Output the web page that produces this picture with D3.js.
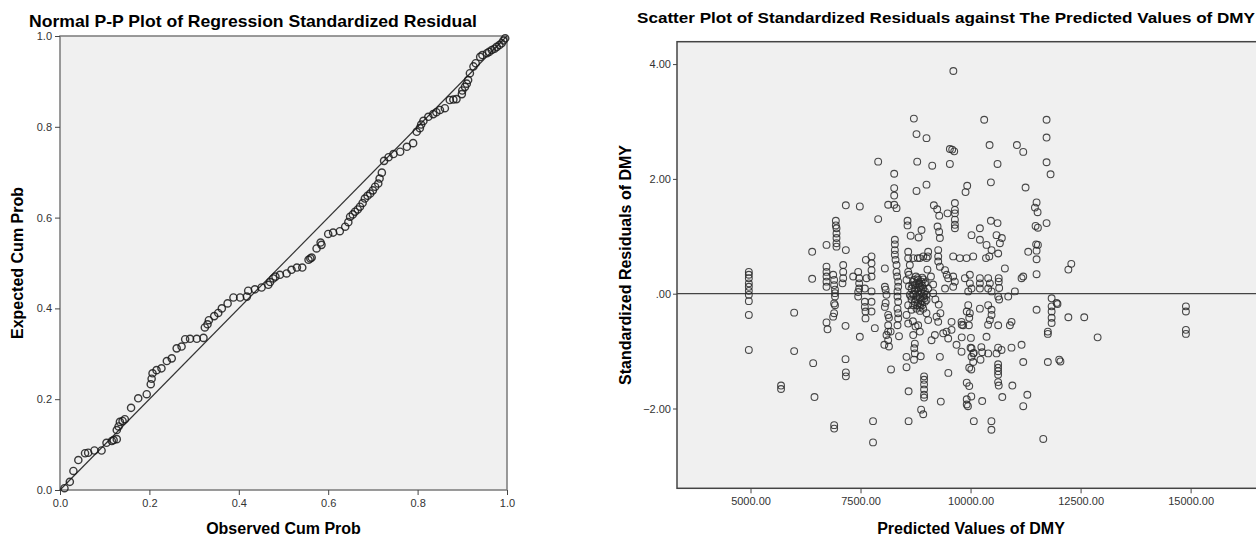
<!DOCTYPE html>
<html>
<head>
<meta charset="utf-8">
<script src="https://cdn.jsdelivr.net/npm/d3@7"></script>
<style>
  body { margin: 0; background: #fff; }
  svg text { font-family: "Liberation Sans", Arial, sans-serif; }
</style>
</head>
<body>
<svg id="chart" width="1256" height="537"></svg>
<script>
// P-P plot: [observed cum prob, expected cum prob]
var ppPoints = [
  [.010,.004],[.022,.018],[.030,.042],[.041,.066],[.056,.081],[.063,.082],[.077,.087],[.093,.087],
  [.104,.104],[.116,.108],[.120,.110],[.127,.112],[.127,.132],[.131,.140],[.134,.150],[.140,.152],
  [.145,.156],[.159,.181],[.175,.202],[.194,.211],[.203,.233],[.205,.245],[.207,.257],[.216,.264],
  [.227,.268],[.239,.284],[.250,.290],[.261,.312],[.272,.316],[.280,.332],[.291,.333],[.306,.333],
  [.321,.335],[.324,.358],[.330,.365],[.333,.374],[.345,.383],[.354,.390],[.362,.400],[.375,.411],
  [.388,.424],[.403,.424],[.418,.426],[.421,.439],[.436,.442],[.451,.446],[.466,.452],[.470,.458],
  [.477,.466],[.482,.470],[.492,.474],[.507,.477],[.518,.485],[.530,.490],[.542,.490],[.556,.507],
  [.560,.510],[.563,.512],[.574,.532],[.583,.545],[.585,.540],[.600,.564],[.611,.567],[.626,.570],
  [.638,.580],[.645,.590],[.649,.602],[.655,.607],[.660,.613],[.666,.618],[.671,.624],[.677,.632],
  [.682,.642],[.688,.648],[.694,.653],[.700,.660],[.705,.668],[.712,.675],[.715,.686],[.720,.699],
  [.725,.725],[.735,.733],[.746,.740],[.761,.745],[.776,.756],[.790,.764],[.798,.789],[.805,.797],
  [.808,.805],[.813,.813],[.824,.822],[.835,.828],[.842,.832],[.850,.837],[.861,.841],[.872,.859],
  [.880,.860],[.887,.861],[.899,.872],[.900,.880],[.906,.888],[.910,.895],[.913,.903],[.917,.918],
  [.925,.933],[.930,.940],[.940,.954],[.945,.958],[.955,.962],[.960,.965],[.966,.969],[.972,.972],
  [.977,.976],[.983,.980],[.988,.984],[.992,.990],[.996,.995]
];
var ppTicks = [0, 0.2, 0.4, 0.6, 0.8, 1.0];

// scatter: [predicted value of DMY, standardized residual]
var residPoints = [
  // upper part
  [9609,3.88],
  [7901,2.30],[8265,2.09],[8265,1.84],[8265,1.71],[8128,1.55],[8265,1.55],[8318,1.49],[7166,1.54],
  [7484,1.52],[7901,1.30],[6939,1.27],[6939,1.19],
  [8712,3.05],[10310,3.03],[11727,3.03],[8772,2.78],[8999,2.71],[11727,2.72],[9530,2.52],[9583,2.51],
  [9629,2.48],[10432,2.59],[11053,2.59],[11197,2.47],[8788,2.30],[9129,2.23],[9530,2.26],[10613,2.26],
  [11727,2.29],[11818,2.08],[8999,1.90],[8772,1.79],[9924,1.88],[9886,1.77],[10462,1.94],[11250,1.85],
  [9166,1.54],[9242,1.47],[9288,1.36],[9477,1.40],[9644,1.58],[9644,1.46],[9644,1.40],[9644,1.29],
  [11500,1.59],[11462,1.50],[11523,1.42],[8568,1.27],[8568,1.19],[8886,1.11],[9250,1.17],[9644,1.20],
  [9644,1.14],[10212,1.14],[10462,1.27],[10613,1.23],[11477,1.18],[11727,1.23],[11530,1.15],
  // left columns
  [4962,0.38],[4962,0.33],[4962,0.27],[4962,0.18],[4962,0.12],[4962,0.05],[4962,-0.02],[4962,-0.13],
  [4962,-0.37],[4962,-0.98],[5992,-0.33],[5992,-1.00],[6401,0.73],[6401,0.26],[6424,-1.21],
  [6727,0.85],[6954,1.14],[6954,1.05],[6954,0.97],[6954,0.88],[6954,0.82],[7166,0.76],
  [6727,0.47],[6727,0.38],[6727,0.30],[6727,0.21],[6727,0.12],
  [6878,0.33],[6900,0.24],[6900,0.15],[6920,0.07],[6920,0.01],[6920,-0.05],[6900,-0.17],[6920,-0.20],
  [6900,-0.34],[6878,-0.40],[6727,-0.50],[6750,-0.62],
  [7106,0.50],[7106,0.38],[7106,0.27],[7090,0.18],[7159,-0.56],[7159,-1.14],[7333,0.30],
  [7447,0.38],[7469,0.27],[7469,0.18],[7469,0.09],[7447,0.03],[7447,-0.05],
  [7621,0.59],[7636,0.27],[7598,0.09],[7598,-0.14],[7598,-0.23],[7613,-0.31],[7613,-0.43],[7484,-0.75],
  // middle band
  [7750,0.65],[7750,0.53],[7750,0.41],[7750,0.30],[7750,0.04],[7750,-0.14],[7750,-0.31],
  [8053,0.44],[8053,0.12],[8090,-0.02],[8053,-0.23],[8128,-0.37],[8128,-0.55],[8090,-0.72],[8128,-0.81],
  [7825,-0.60],[8070,0.07],[8070,-0.16],[8146,-0.42],[8041,-0.89],[8184,-0.66],[8146,-0.92],
  [8280,0.94],[8280,0.86],[8280,0.76],[8280,0.68],[8295,0.59],[8318,0.50],[8318,0.38],[8333,0.30],
  [8355,0.21],[8355,0.12],[8340,0.04],[8340,-0.05],[8355,-0.14],[8340,-0.26],[8355,-0.34],[8355,-0.43],
  [8340,-0.55],[8374,-0.74],
  [8583,0.73],[8583,0.62],[8620,0.50],[8583,0.38],[8545,0.24],[8620,-0.02],[8583,-0.20],[8545,-0.37],
  [8583,-0.52],[8639,1.01],[8820,0.98],[8700,0.62],[8800,0.62],[8925,0.65],[9029,0.65],
  [8848,0.62],[8999,0.62],[9037,0.73],
  [9265,0.76],[9265,0.65],[9265,0.56],[9303,0.47],[9286,1.08],[9303,0.97],
  [9420,0.41],[9458,0.33],[9492,0.27],[9420,0.09],[9605,0.30],[9643,0.21],[9605,0.12],
  [9605,0.65],[9757,0.62],[9909,0.62],[10060,0.65],[10350,0.62],[10426,0.65],
  [9871,0.27],[9984,0.18],[10022,0.09],[9984,0.33],[9947,0.04],[9947,-0.20],[9984,-0.34],[9962,-0.55],
  [9913,-0.31],[9970,-0.42],[9799,-0.54],[9799,-0.76],[10008,-0.77],
  [10212,0.27],[10212,0.18],[10212,0.09],[10400,0.27],[10439,0.18],[10400,0.09],[10477,0.04],
  [10400,-0.20],[10477,-0.28],[10477,-0.37],[10439,-0.46],[10212,-0.26],[10628,-0.05],[10856,-0.05],
  [11007,0.04],[10780,0.44],[11159,0.27],
  [9795,-0.49],[9833,-0.55],[9568,-0.49],[9454,-0.66],[9492,-0.78],
  [8999,-0.34],[9037,-0.46],[9227,-0.40],[9265,-0.49],[9189,-0.72],[9378,-0.69],[8810,-0.55],[8848,-0.66],
  [8697,-0.72],[8734,-0.87],[8720,-0.95],[8734,-1.04],[8545,-1.10],[8128,-0.66],[9113,-0.81],[9303,-1.10],
  [9681,-0.89],[9795,-1.01],[10022,-0.95],[10060,-1.04],[10022,-1.10],[10060,-1.19],
  [10363,-0.75],[10401,-1.04],[10590,-1.04],[10704,-0.98],[10894,-0.55],[10931,-0.49],[10628,-0.55],
  [11159,-0.89],[11197,-1.19],[9568,-0.63],
  [10022,1.02],[10212,0.94],[10363,0.85],[10477,0.76],[10590,1.02],[10666,0.88],[10628,0.70],[10711,0.97],
  [11310,0.73],[11197,0.30],
  [10398,-0.54],[10640,0.27],[10640,0.21],[10650,0.10],[10650,-0.10],[10626,-0.94],[10626,-1.23],
  [10626,-1.29],[10626,-1.35],[10930,-0.94],[10000,-0.94],[10074,-1.03],[10017,-1.32],[9970,-1.29],
  [10245,-0.93],[10264,-1.02],[10226,-1.15],
  [9020,0.42],[9100,0.30],[9150,0.16],[9150,0.01],[9200,-0.10],[9277,-0.19],[9315,-0.34],
  [8600,0.33],[8600,0.13],[8660,-0.10],[8660,-0.28],[8690,-0.48],[8750,-0.57],[8715,-1.15],[8868,-1.09],
  // dense centre
  [8697,0.21],[8734,0.15],[8772,0.18],[8810,0.24],[8848,0.12],[8886,0.21],[8924,0.09],[8962,0.18],
  [8734,0.06],[8810,0.04],[8886,0.01],[8962,0.04],[8697,-0.02],[8772,-0.05],[8848,-0.08],[8924,-0.05],
  [8999,-0.02],[8734,-0.14],[8810,-0.17],[8886,-0.13],[8962,-0.14],[8848,-0.23],[8772,-0.26],[8924,-0.26],
  [8659,0.09],[9037,0.09],[8999,-0.11],[8697,-0.20],[8795,0.27],[8901,0.28],
  [8680,0.15],[8760,0.10],[8840,0.18],[8900,0.14],[8950,-0.08],[8700,0.00],[8760,-0.10],[8830,-0.02],
  [8870,0.06],[8940,0.00],[8790,-0.20],[8860,-0.18],[8720,0.24],[8980,0.20],[8650,-0.05],[8820,0.10],
  [8900,-0.20],[8760,0.30],[8850,-0.30],[8930,0.25],
  // right side
  [11490,0.86],[11530,0.85],[11500,0.75],[11500,0.60],[11500,0.34],[11500,-0.28],
  [12222,0.42],[12289,0.52],[11756,-0.66],[11756,-0.70],[11756,-1.19],
  [11842,-0.08],[11842,-0.22],[11842,-0.31],[11842,-0.42],[11842,-0.51],[11956,-0.16],[11975,-0.18],
  [12014,-1.15],[12042,-1.18],[12222,-0.41],[12583,-0.41],[12887,-0.76],
  [14893,-0.22],[14893,-0.31],[14893,-0.63],[14893,-0.70],
  // lower part
  [5694,-1.60],[5694,-1.66],[6454,-1.80],[6901,-2.29],[6901,-2.35],[7167,-1.37],[7167,-1.44],
  [7784,-2.22],[7784,-2.59],[8592,-1.70],[8592,-2.22],
  [8944,-1.44],[8944,-1.50],[8944,-1.58],[8944,-1.67],[8944,-1.76],[8944,-1.81],[8877,-2.02],[8925,-2.10],
  [9324,-1.88],[9495,-1.38],[9913,-1.55],[9970,-1.61],[10017,-1.79],[9913,-1.84],[9913,-1.93],[9941,-1.96],
  [10074,-2.22],[10264,-1.87],[10626,-1.41],[10626,-1.54],[10640,-1.60],[10721,-1.80],[10474,-2.22],
  [10474,-2.37],[10950,-1.60],[11197,-1.96],[11290,-1.76],[11652,-2.53],[8193,-1.32],[8545,-1.28]
];
var predTicks = [5000, 7500, 10000, 12500, 15000];
var residTicks = [-2, 0, 2, 4];

var svg = d3.select('#chart');

// ---------- left: Normal P-P plot ----------
var pp = {left: 60, right: 507, top: 36, bottom: 490};
var ppX = d3.scaleLinear().domain([0, 1]).range([pp.left, pp.right]);
var ppY = d3.scaleLinear().domain([0, 1]).range([pp.bottom, pp.top]);

svg.append('rect')
  .attr('x', pp.left).attr('y', pp.top)
  .attr('width', pp.right - pp.left).attr('height', pp.bottom - pp.top)
  .attr('fill', '#f0f0f0').attr('stroke', '#7a7a7a').attr('stroke-width', 1.5);

var ppXAxis = svg.append('g')
  .attr('transform', 'translate(0,' + pp.bottom + ')')
  .call(d3.axisBottom(ppX).tickValues(ppTicks).tickFormat(d3.format('.1f')).tickSize(5).tickPadding(4));
var ppYAxis = svg.append('g')
  .attr('transform', 'translate(' + pp.left + ',0)')
  .call(d3.axisLeft(ppY).tickValues(ppTicks).tickFormat(d3.format('.1f')).tickSize(5).tickPadding(3));

svg.append('line')
  .attr('x1', ppX(0)).attr('y1', ppY(0))
  .attr('x2', ppX(1)).attr('y2', ppY(1))
  .attr('stroke', '#333').attr('stroke-width', 1.2);

svg.append('g').selectAll('circle')
  .data(ppPoints).enter().append('circle')
  .attr('cx', function(d){ return ppX(d[0]); })
  .attr('cy', function(d){ return ppY(d[1]); })
  .attr('r', 3.6)
  .attr('fill', 'none')
  .attr('stroke', '#1a1a1a')
  .attr('stroke-width', 1.4)
  .attr('stroke-opacity', 0.85);

svg.append('text')
  .attr('x', 29).attr('y', 27)
  .attr('textLength', 448).attr('lengthAdjust', 'spacingAndGlyphs')
  .style('font-size', '17px').style('font-weight', 'bold')
  .text('Normal P-P Plot of Regression Standardized Residual');
svg.append('text')
  .attr('x', (pp.left + pp.right) / 2).attr('y', 534)
  .attr('text-anchor', 'middle')
  .style('font-size', '16px').style('font-weight', 'bold')
  .text('Observed Cum Prob');
svg.append('text')
  .attr('transform', 'translate(23,' + (pp.top + pp.bottom) / 2 + ') rotate(-90)')
  .attr('text-anchor', 'middle')
  .style('font-size', '16px').style('font-weight', 'bold')
  .text('Expected Cum Prob');

// ---------- right: residuals vs predicted ----------
var sc = {left: 677, right: 1265, top: 41.7, bottom: 488.3};
var scX = d3.scaleLinear().domain([3330, 16690]).range([sc.left, sc.right]);
var scY = d3.scaleLinear().domain([-3.39, 4.39]).range([sc.bottom, sc.top]);

svg.append('rect')
  .attr('x', sc.left).attr('y', sc.top)
  .attr('width', sc.right - sc.left).attr('height', sc.bottom - sc.top)
  .attr('fill', '#f0f0f0').attr('stroke', '#444').attr('stroke-width', 1.5);

var fmtResid = function(v){
  var s = d3.format('.2f')(v);
  return v === 0 ? '.00' : s;
};
var scXAxis = svg.append('g')
  .attr('transform', 'translate(0,' + sc.bottom + ')')
  .call(d3.axisBottom(scX).tickValues(predTicks).tickFormat(d3.format('.2f')).tickSize(5).tickPadding(4));
var scYAxis = svg.append('g')
  .attr('transform', 'translate(' + sc.left + ',0)')
  .call(d3.axisLeft(scY).tickValues(residTicks).tickFormat(fmtResid).tickSize(4).tickPadding(2));

svg.append('line')
  .attr('x1', sc.left).attr('x2', sc.right)
  .attr('y1', scY(0)).attr('y2', scY(0))
  .attr('stroke', '#444').attr('stroke-width', 1.3);

svg.append('g').selectAll('circle')
  .data(residPoints).enter().append('circle')
  .attr('cx', function(d){ return scX(d[0]); })
  .attr('cy', function(d){ return scY(d[1]); })
  .attr('r', 3.4)
  .attr('fill', 'none')
  .attr('stroke', '#2a2a2a')
  .attr('stroke-width', 1.1)
  .attr('stroke-opacity', 0.85);

svg.append('text')
  .attr('x', 637).attr('y', 23)
  .attr('textLength', 618).attr('lengthAdjust', 'spacingAndGlyphs')
  .style('font-size', '15.5px').style('font-weight', 'bold')
  .text('Scatter Plot of Standardized Residuals against The Predicted Values of DMY');
svg.append('text')
  .attr('x', (sc.left + sc.right) / 2).attr('y', 534)
  .attr('text-anchor', 'middle')
  .style('font-size', '16px').style('font-weight', 'bold')
  .text('Predicted Values of DMY');
svg.append('text')
  .attr('transform', 'translate(631,' + (sc.top + sc.bottom) / 2 + ') rotate(-90)')
  .attr('text-anchor', 'middle')
  .style('font-size', '16px').style('font-weight', 'bold')
  .text('Standardized Residuals of DMY');

// axis styling, frame already drawn
[ppXAxis, ppYAxis, scXAxis, scYAxis].forEach(function(ax){
  ax.select('.domain').remove();
  ax.selectAll('.tick line').attr('stroke', '#444');
  ax.selectAll('.tick text')
    .attr('fill', '#333')
    .style('font-size', '11px')
    .style('font-family', '"Liberation Sans", Arial, sans-serif');
});
</script>
</body>
</html>
